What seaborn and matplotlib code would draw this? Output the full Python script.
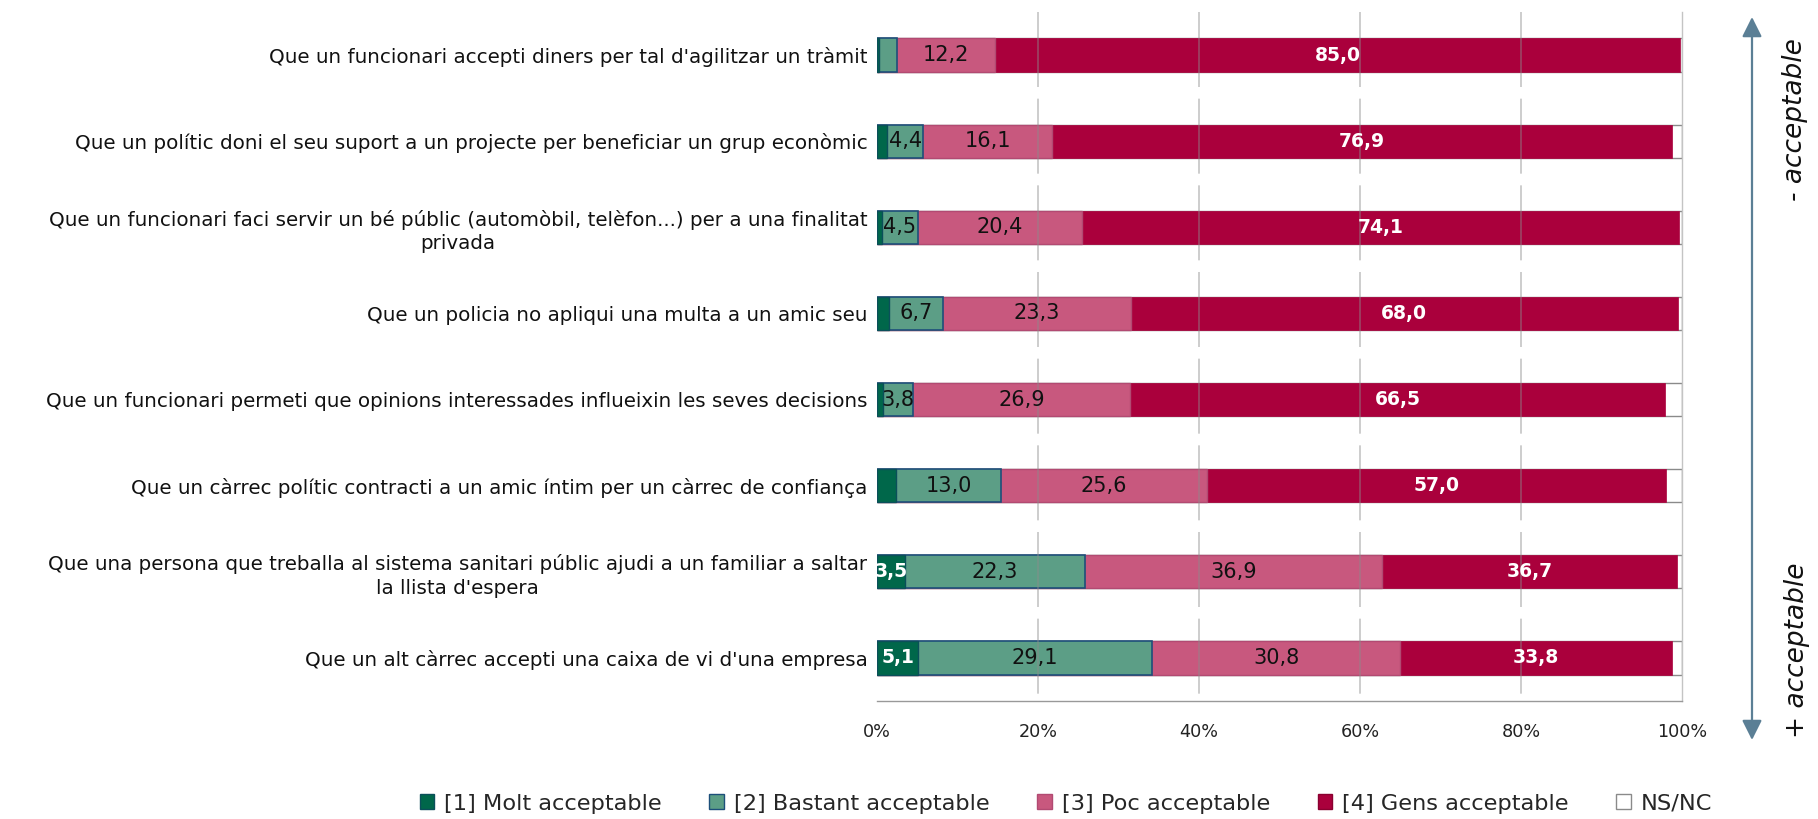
import numpy as np
import pandas as pd
import matplotlib
matplotlib.use("Agg")
import matplotlib.pyplot as plt
from matplotlib.patches import Patch
import seaborn as sns

categories = [
    "Que un funcionari accepti diners per tal d'agilitzar un tràmit",
    "Que un polític doni el seu suport a un projecte per beneficiar un grup econòmic",
    "Que un funcionari faci servir un bé públic (automòbil, telèfon...) per a una finalitat\nprivada",
    "Que un policia no apliqui una multa a un amic seu",
    "Que un funcionari permeti que opinions interessades influeixin les seves decisions",
    "Que un càrrec polític contracti a un amic íntim per un càrrec de confiança",
    "Que una persona que treballa al sistema sanitari públic ajudi a un familiar a saltar\nla llista d'espera",
    "Que un alt càrrec accepti una caixa de vi d'una empresa",
]
molt = [0.3, 1.3, 0.6, 1.5, 0.7, 2.4, 3.5, 5.1]
bastant = [2.2, 4.4, 4.5, 6.7, 3.8, 13.0, 22.3, 29.1]
poc = [12.2, 16.1, 20.4, 23.3, 26.9, 25.6, 36.9, 30.8]
gens = [85.0, 76.9, 74.1, 68.0, 66.5, 57.0, 36.7, 33.8]
nsnc = [0.3, 1.3, 0.4, 0.5, 2.1, 2.0, 0.6, 1.2]

series_names = ["[1] Molt acceptable", "[2] Bastant acceptable", "[3] Poc acceptable",
                "[4] Gens acceptable", "NS/NC"]
xticks = [0, 20, 40, 60, 80, 100]
side_top = "- acceptable"
side_bottom = "+ acceptable"

colors = ["#00674a", "#5c9e86", "#c8587e", "#aa003c", "#ffffff"]
edges = ["#0b4f5a", "#1d4f7a", "#b24a72", "#aa003c", "#8a8a8a"]
lws = [1.0, 1.2, 1.0, 0.5, 1.0]

sns.set_style("white")
plt.rcParams["font.family"] = ["DejaVu Sans"]

fig = plt.figure(figsize=(18.18, 8.19), dpi=100)
ax = fig.add_axes([877 / 1818, 118 / 819, 805 / 1818, 689 / 819])

vals = np.array([molt, bastant, poc, gens, nsnc])
cum = np.cumsum(vals, axis=0)

# draw from the full stack down to the first segment
for i in range(4, -1, -1):
    df = pd.DataFrame({"cat": categories, "val": cum[i]})
    sns.barplot(data=df, x="val", y="cat", order=categories, orient="h",
                color=colors[i], saturation=1, width=0.385, errorbar=None,
                edgecolor=edges[i], linewidth=lws[i], ax=ax, zorder=1)

ax.set_xlim(0, 100)
ax.set_ylim(7.5, -0.5)

# dashed gridlines on top of bars
ax.vlines(xticks[1:-1], -0.5, 7.5, colors="#8c8c8c", alpha=0.5, linewidth=1.2,
          linestyles=[(0, (45, 7))], zorder=2.5)

# value labels
for i in range(4):
    for j in range(len(categories)):
        v = vals[i][j]
        if v < 3:
            continue
        xc = cum[i][j] - v / 2
        txt = f"{v:.1f}".replace(".", ",")
        if i in (0, 3):
            ax.text(xc, j, txt, ha="center", va="center", color="white",
                    fontsize=13.5, fontweight="bold", zorder=4, clip_on=True)
        else:
            ax.text(xc, j, txt, ha="center", va="center", color="#111111",
                    fontsize=15, zorder=4, clip_on=True)

ax.set_xticks(xticks)
ax.set_xticklabels([f"{t}%" for t in xticks])
ax.set_yticks(range(len(categories)))
ax.set_yticklabels(categories, fontsize=14.3, multialignment="center",
                   linespacing=1.3, color="#111111")
ax.set_xlabel("")
ax.set_ylabel("")
ax.tick_params(axis="y", length=0, pad=7)
ax.tick_params(axis="x", length=5, width=1, color="#999999", labelsize=12.7,
               labelcolor="#222222", pad=11, direction="out")

for s in ["left", "top"]:
    ax.spines[s].set_visible(False)
ax.spines["bottom"].set_color("#999999")
ax.spines["bottom"].set_linewidth(1.0)
ax.spines["right"].set_color("#c4c4c4")
ax.spines["right"].set_linewidth(1.0)
ax.spines["right"].set_visible(True)
ax.spines["bottom"].set_visible(True)

# legend
handles = [Patch(facecolor=colors[i], edgecolor=edges[i] if i != 3 else "#8a0030",
                 linewidth=1.0) for i in range(5)]
fig.legend(handles, series_names, loc="center", bbox_to_anchor=(0.5864, 0.0185),
           ncol=5, frameon=False, fontsize=16.2, handlelength=0.65,
           handleheight=0.65, handletextpad=0.45, columnspacing=2.1)

# side arrow and labels
fig.patches.append(matplotlib.patches.FancyArrowPatch(
    (1752 / 1818, 1 - 740 / 819), (1752 / 1818, 1 - 17 / 819),
    transform=fig.transFigure, arrowstyle="<|-|>,head_length=1.0,head_width=0.5",
    mutation_scale=12, color="#5b7f95", linewidth=1.6, shrinkA=0, shrinkB=0))
fig.text(1795 / 1818, 1 - 120 / 819, side_top, rotation=90, ha="center", va="center",
         fontsize=19, style="italic", color="#111111")
fig.text(1797 / 1818, 1 - 650 / 819, side_bottom, rotation=90, ha="center", va="center",
         fontsize=19, style="italic", color="#111111")

fig.savefig("out.png", dpi=100)
